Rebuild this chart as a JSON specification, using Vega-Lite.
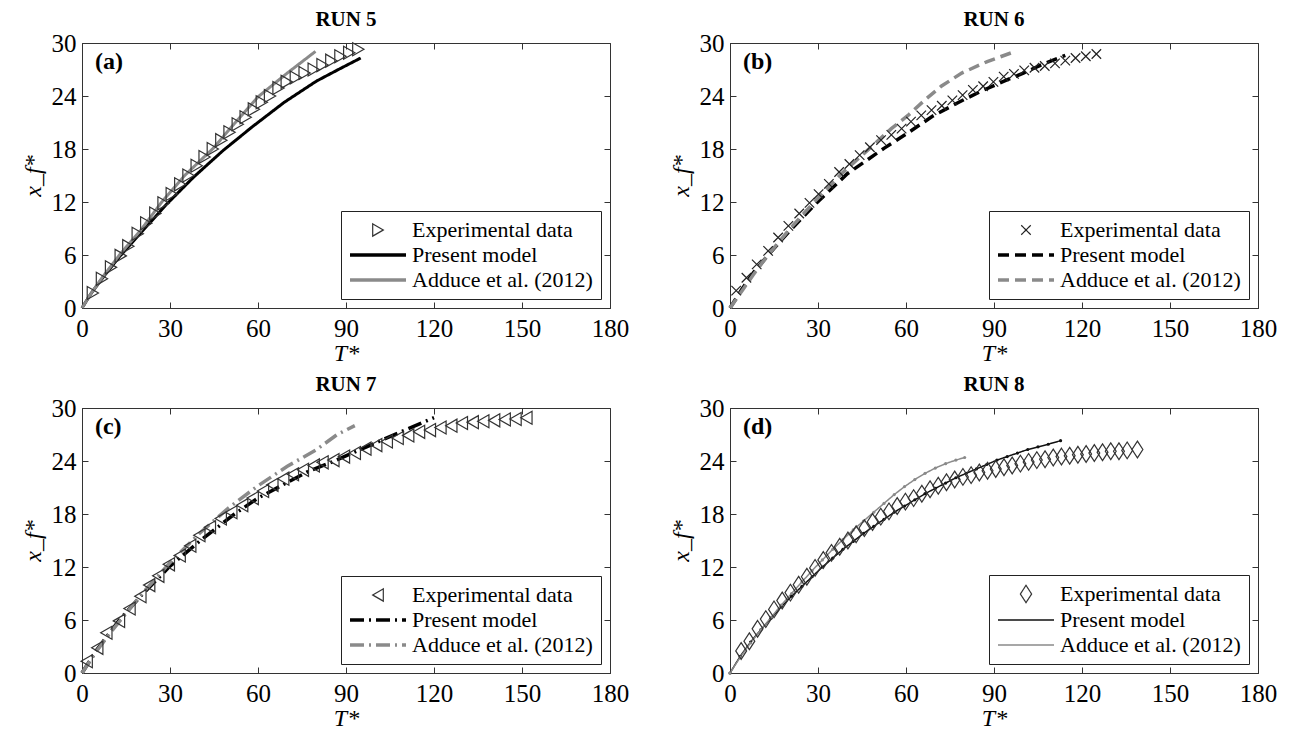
{
  "$schema": "https://vega.github.io/schema/vega-lite/v6.json",
  "padding": {"left": 20, "top": 8, "right": 10, "bottom": 2},
  "background": "white",
  "config": {
    "font": "Liberation Serif",
    "view": {"stroke": "#333", "strokeWidth": 1},
    "axis": {"labelFont": "Liberation Serif", "labelFontSize": 25, "labelColor": "#000", "tickColor": "#333", "tickSize": -6, "domainColor": "#333", "grid": false, "titleFont": "Liberation Serif", "titleFontSize": 24, "titleFontStyle": "italic", "titleFontWeight": "normal", "titleColor": "#000", "labelPadding": 14, "labelFlush": false, "labelOverlap": false},
    "axisY": {"labelPadding": 12},
    "legend": {"labelFont": "Liberation Serif", "labelFontSize": 22, "labelColor": "#000", "strokeColor": "#222", "fillColor": "#fff", "padding": 8, "rowPadding": 3, "labelOffset": 23, "symbolOffset": 18, "orient": "bottom-right", "offset": 9, "symbolOpacity": 1, "labelLimit": 400},
    "title": {"font": "Liberation Serif", "fontSize": 21, "fontWeight": "bold", "color": "#000", "offset": 1}
  },
  "datasets": {
    "d": [
      {"panel":"a","series":"Experimental data","T":3.7,"x":1.7},{"panel":"a","series":"Experimental data","T":6.8,"x":3.3},{"panel":"a","series":"Experimental data","T":9.9,"x":4.6},{"panel":"a","series":"Experimental data","T":13.2,"x":5.9},{"panel":"a","series":"Experimental data","T":15.8,"x":7.0},{"panel":"a","series":"Experimental data","T":19.0,"x":8.4},{"panel":"a","series":"Experimental data","T":21.9,"x":9.6},{"panel":"a","series":"Experimental data","T":25.0,"x":10.7},{"panel":"a","series":"Experimental data","T":27.8,"x":11.85},{"panel":"a","series":"Experimental data","T":30.6,"x":12.9},{"panel":"a","series":"Experimental data","T":33.5,"x":14.0},{"panel":"a","series":"Experimental data","T":36.3,"x":15.0},{"panel":"a","series":"Experimental data","T":39.1,"x":16.1},{"panel":"a","series":"Experimental data","T":41.8,"x":17.1},{"panel":"a","series":"Experimental data","T":44.6,"x":18.0},{"panel":"a","series":"Experimental data","T":47.5,"x":19.0},{"panel":"a","series":"Experimental data","T":50.3,"x":19.9},{"panel":"a","series":"Experimental data","T":53.1,"x":20.8},{"panel":"a","series":"Experimental data","T":55.8,"x":21.6},{"panel":"a","series":"Experimental data","T":58.6,"x":22.5},{"panel":"a","series":"Experimental data","T":61.3,"x":23.3},{"panel":"a","series":"Experimental data","T":64.1,"x":24.0},{"panel":"a","series":"Experimental data","T":67.0,"x":24.9},{"panel":"a","series":"Experimental data","T":69.8,"x":25.6},{"panel":"a","series":"Experimental data","T":72.9,"x":26.1},{"panel":"a","series":"Experimental data","T":75.9,"x":26.6},{"panel":"a","series":"Experimental data","T":79.0,"x":27.0},{"panel":"a","series":"Experimental data","T":82.0,"x":27.5},{"panel":"a","series":"Experimental data","T":85.0,"x":28.0},{"panel":"a","series":"Experimental data","T":88.1,"x":28.5},{"panel":"a","series":"Experimental data","T":91.1,"x":28.9},{"panel":"a","series":"Experimental data","T":94.2,"x":29.3},
      {"panel":"a","series":"Present model","T":0,"x":0},{"panel":"a","series":"Present model","T":3,"x":1.6},{"panel":"a","series":"Present model","T":7,"x":3.4},{"panel":"a","series":"Present model","T":13,"x":5.9},{"panel":"a","series":"Present model","T":20,"x":8.5},{"panel":"a","series":"Present model","T":29,"x":11.8},{"panel":"a","series":"Present model","T":38,"x":14.8},{"panel":"a","series":"Present model","T":48,"x":17.8},{"panel":"a","series":"Present model","T":58,"x":20.5},{"panel":"a","series":"Present model","T":69,"x":23.3},{"panel":"a","series":"Present model","T":80,"x":25.7},{"panel":"a","series":"Present model","T":88,"x":27.1},{"panel":"a","series":"Present model","T":95,"x":28.3},
      {"panel":"a","series":"Adduce et al. (2012)","T":0,"x":0},{"panel":"a","series":"Adduce et al. (2012)","T":3,"x":1.6},{"panel":"a","series":"Adduce et al. (2012)","T":7,"x":3.5},{"panel":"a","series":"Adduce et al. (2012)","T":13,"x":6.1},{"panel":"a","series":"Adduce et al. (2012)","T":20,"x":8.8},{"panel":"a","series":"Adduce et al. (2012)","T":27.2,"x":12},{"panel":"a","series":"Adduce et al. (2012)","T":35,"x":15},{"panel":"a","series":"Adduce et al. (2012)","T":44.8,"x":18.1},{"panel":"a","series":"Adduce et al. (2012)","T":52,"x":20.9},{"panel":"a","series":"Adduce et al. (2012)","T":60,"x":23.9},{"panel":"a","series":"Adduce et al. (2012)","T":70,"x":26.6},{"panel":"a","series":"Adduce et al. (2012)","T":79.6,"x":29.05},

      {"panel":"b","series":"Experimental data","T":2.1,"x":1.97},{"panel":"b","series":"Experimental data","T":5.6,"x":3.42},{"panel":"b","series":"Experimental data","T":9.1,"x":4.94},{"panel":"b","series":"Experimental data","T":13.0,"x":6.46},{"panel":"b","series":"Experimental data","T":16.4,"x":7.98},{"panel":"b","series":"Experimental data","T":19.9,"x":9.3},{"panel":"b","series":"Experimental data","T":23.6,"x":10.7},{"panel":"b","series":"Experimental data","T":27.1,"x":11.9},{"panel":"b","series":"Experimental data","T":30.2,"x":12.9},{"panel":"b","series":"Experimental data","T":33.7,"x":14.05},{"panel":"b","series":"Experimental data","T":37.2,"x":15.4},{"panel":"b","series":"Experimental data","T":40.7,"x":16.3},{"panel":"b","series":"Experimental data","T":44.2,"x":17.3},{"panel":"b","series":"Experimental data","T":47.7,"x":18.2},{"panel":"b","series":"Experimental data","T":51.5,"x":19.0},{"panel":"b","series":"Experimental data","T":55.0,"x":19.6},{"panel":"b","series":"Experimental data","T":58.5,"x":20.3},{"panel":"b","series":"Experimental data","T":61.7,"x":21.1},{"panel":"b","series":"Experimental data","T":65.2,"x":21.8},{"panel":"b","series":"Experimental data","T":68.7,"x":22.4},{"panel":"b","series":"Experimental data","T":72.2,"x":22.9},{"panel":"b","series":"Experimental data","T":75.8,"x":23.5},{"panel":"b","series":"Experimental data","T":79.3,"x":24.1},{"panel":"b","series":"Experimental data","T":82.8,"x":24.7},{"panel":"b","series":"Experimental data","T":86.3,"x":25.1},{"panel":"b","series":"Experimental data","T":89.8,"x":25.6},{"panel":"b","series":"Experimental data","T":93.3,"x":26.2},{"panel":"b","series":"Experimental data","T":96.8,"x":26.5},{"panel":"b","series":"Experimental data","T":100.3,"x":26.9},{"panel":"b","series":"Experimental data","T":103.8,"x":27.2},{"panel":"b","series":"Experimental data","T":107.3,"x":27.4},{"panel":"b","series":"Experimental data","T":110.8,"x":27.7},{"panel":"b","series":"Experimental data","T":114.3,"x":28.0},{"panel":"b","series":"Experimental data","T":117.8,"x":28.3},{"panel":"b","series":"Experimental data","T":121.3,"x":28.5},{"panel":"b","series":"Experimental data","T":124.9,"x":28.75},
      {"panel":"b","series":"Present model","T":0,"x":0},{"panel":"b","series":"Present model","T":4,"x":2.1},{"panel":"b","series":"Present model","T":8,"x":4.0},{"panel":"b","series":"Present model","T":13,"x":6.0},{"panel":"b","series":"Present model","T":20,"x":8.6},{"panel":"b","series":"Present model","T":29.5,"x":11.9},{"panel":"b","series":"Present model","T":40,"x":15.2},{"panel":"b","series":"Present model","T":52.6,"x":18.1},{"panel":"b","series":"Present model","T":61,"x":19.9},{"panel":"b","series":"Present model","T":69,"x":21.7},{"panel":"b","series":"Present model","T":78,"x":23.3},{"panel":"b","series":"Present model","T":86,"x":24.6},{"panel":"b","series":"Present model","T":95,"x":25.9},{"panel":"b","series":"Present model","T":100,"x":26.6},{"panel":"b","series":"Present model","T":106,"x":27.5},{"panel":"b","series":"Present model","T":114.3,"x":28.6},
      {"panel":"b","series":"Adduce et al. (2012)","T":0,"x":0},{"panel":"b","series":"Adduce et al. (2012)","T":4,"x":1.9},{"panel":"b","series":"Adduce et al. (2012)","T":8,"x":3.8},{"panel":"b","series":"Adduce et al. (2012)","T":13,"x":6.0},{"panel":"b","series":"Adduce et al. (2012)","T":20,"x":8.8},{"panel":"b","series":"Adduce et al. (2012)","T":29,"x":12.1},{"panel":"b","series":"Adduce et al. (2012)","T":38,"x":15.2},{"panel":"b","series":"Adduce et al. (2012)","T":47.7,"x":18.1},{"panel":"b","series":"Adduce et al. (2012)","T":55,"x":20.3},{"panel":"b","series":"Adduce et al. (2012)","T":61,"x":21.9},{"panel":"b","series":"Adduce et al. (2012)","T":66.6,"x":23.6},{"panel":"b","series":"Adduce et al. (2012)","T":72,"x":25.1},{"panel":"b","series":"Adduce et al. (2012)","T":79,"x":26.6},{"panel":"b","series":"Adduce et al. (2012)","T":87.7,"x":27.9},{"panel":"b","series":"Adduce et al. (2012)","T":96,"x":28.9},

      {"panel":"c","series":"Experimental data","T":1.6,"x":1.33},{"panel":"c","series":"Experimental data","T":5.2,"x":2.85},{"panel":"c","series":"Experimental data","T":8.3,"x":4.56},{"panel":"c","series":"Experimental data","T":12.6,"x":5.9},{"panel":"c","series":"Experimental data","T":16.2,"x":7.3},{"panel":"c","series":"Experimental data","T":19.9,"x":8.7},{"panel":"c","series":"Experimental data","T":22.9,"x":9.95},{"panel":"c","series":"Experimental data","T":26.0,"x":11.0},{"panel":"c","series":"Experimental data","T":29.6,"x":12.3},{"panel":"c","series":"Experimental data","T":33.3,"x":13.3},{"panel":"c","series":"Experimental data","T":36.9,"x":14.4},{"panel":"c","series":"Experimental data","T":40.0,"x":15.6},{"panel":"c","series":"Experimental data","T":43.6,"x":16.5},{"panel":"c","series":"Experimental data","T":47.3,"x":17.5},{"panel":"c","series":"Experimental data","T":50.9,"x":18.2},{"panel":"c","series":"Experimental data","T":54.6,"x":19.0},{"panel":"c","series":"Experimental data","T":58.2,"x":19.8},{"panel":"c","series":"Experimental data","T":61.7,"x":20.6},{"panel":"c","series":"Experimental data","T":64.9,"x":21.3},{"panel":"c","series":"Experimental data","T":68.6,"x":22.0},{"panel":"c","series":"Experimental data","T":71.9,"x":22.5},{"panel":"c","series":"Experimental data","T":75.3,"x":23.0},{"panel":"c","series":"Experimental data","T":79.0,"x":23.5},{"panel":"c","series":"Experimental data","T":82.0,"x":23.85},{"panel":"c","series":"Experimental data","T":85.7,"x":24.1},{"panel":"c","series":"Experimental data","T":89.3,"x":24.5},{"panel":"c","series":"Experimental data","T":93.0,"x":24.9},{"panel":"c","series":"Experimental data","T":96.6,"x":25.4},{"panel":"c","series":"Experimental data","T":100.3,"x":25.8},{"panel":"c","series":"Experimental data","T":103.9,"x":26.2},{"panel":"c","series":"Experimental data","T":107.6,"x":26.6},{"panel":"c","series":"Experimental data","T":111.2,"x":26.9},{"panel":"c","series":"Experimental data","T":114.9,"x":27.3},{"panel":"c","series":"Experimental data","T":118.6,"x":27.5},{"panel":"c","series":"Experimental data","T":122.2,"x":27.8},{"panel":"c","series":"Experimental data","T":125.9,"x":28.0},{"panel":"c","series":"Experimental data","T":129.5,"x":28.3},{"panel":"c","series":"Experimental data","T":133.2,"x":28.4},{"panel":"c","series":"Experimental data","T":136.8,"x":28.5},{"panel":"c","series":"Experimental data","T":140.5,"x":28.6},{"panel":"c","series":"Experimental data","T":144.1,"x":28.7},{"panel":"c","series":"Experimental data","T":147.8,"x":28.75},{"panel":"c","series":"Experimental data","T":151.5,"x":28.9},
      {"panel":"c","series":"Present model","T":0,"x":0},{"panel":"c","series":"Present model","T":5,"x":2.6},{"panel":"c","series":"Present model","T":12.5,"x":5.9},{"panel":"c","series":"Present model","T":20,"x":8.7},{"panel":"c","series":"Present model","T":30,"x":12.1},{"panel":"c","series":"Present model","T":40,"x":14.9},{"panel":"c","series":"Present model","T":52,"x":18.0},{"panel":"c","series":"Present model","T":60,"x":19.8},{"panel":"c","series":"Present model","T":69,"x":21.4},{"panel":"c","series":"Present model","T":77,"x":22.8},{"panel":"c","series":"Present model","T":86,"x":24.0},{"panel":"c","series":"Present model","T":97,"x":25.6},{"panel":"c","series":"Present model","T":108,"x":27.2},{"panel":"c","series":"Present model","T":120,"x":28.9},
      {"panel":"c","series":"Adduce et al. (2012)","T":0,"x":0},{"panel":"c","series":"Adduce et al. (2012)","T":5,"x":2.5},{"panel":"c","series":"Adduce et al. (2012)","T":10,"x":4.7},{"panel":"c","series":"Adduce et al. (2012)","T":20,"x":8.8},{"panel":"c","series":"Adduce et al. (2012)","T":30,"x":12.5},{"panel":"c","series":"Adduce et al. (2012)","T":40,"x":15.8},{"panel":"c","series":"Adduce et al. (2012)","T":50,"x":18.7},{"panel":"c","series":"Adduce et al. (2012)","T":60,"x":21.2},{"panel":"c","series":"Adduce et al. (2012)","T":70,"x":23.4},{"panel":"c","series":"Adduce et al. (2012)","T":80,"x":25.3},{"panel":"c","series":"Adduce et al. (2012)","T":87,"x":27.0},{"panel":"c","series":"Adduce et al. (2012)","T":93,"x":28.0},

      {"panel":"d","series":"Experimental data","T":3.8,"x":2.5},{"panel":"d","series":"Experimental data","T":6.6,"x":3.6},{"panel":"d","series":"Experimental data","T":9.4,"x":5.0},{"panel":"d","series":"Experimental data","T":12.2,"x":6.1},{"panel":"d","series":"Experimental data","T":15.0,"x":7.2},{"panel":"d","series":"Experimental data","T":17.8,"x":8.2},{"panel":"d","series":"Experimental data","T":20.6,"x":9.1},{"panel":"d","series":"Experimental data","T":23.4,"x":10.0},{"panel":"d","series":"Experimental data","T":26.2,"x":10.9},{"panel":"d","series":"Experimental data","T":29.0,"x":11.9},{"panel":"d","series":"Experimental data","T":31.8,"x":12.8},{"panel":"d","series":"Experimental data","T":34.6,"x":13.6},{"panel":"d","series":"Experimental data","T":37.4,"x":14.3},{"panel":"d","series":"Experimental data","T":40.2,"x":15.0},{"panel":"d","series":"Experimental data","T":43.0,"x":15.7},{"panel":"d","series":"Experimental data","T":45.8,"x":16.4},{"panel":"d","series":"Experimental data","T":48.6,"x":17.1},{"panel":"d","series":"Experimental data","T":51.4,"x":17.7},{"panel":"d","series":"Experimental data","T":54.2,"x":18.3},{"panel":"d","series":"Experimental data","T":57.0,"x":18.9},{"panel":"d","series":"Experimental data","T":59.8,"x":19.4},{"panel":"d","series":"Experimental data","T":62.6,"x":19.8},{"panel":"d","series":"Experimental data","T":65.4,"x":20.3},{"panel":"d","series":"Experimental data","T":68.2,"x":20.8},{"panel":"d","series":"Experimental data","T":71.0,"x":21.2},{"panel":"d","series":"Experimental data","T":73.8,"x":21.6},{"panel":"d","series":"Experimental data","T":76.6,"x":21.9},{"panel":"d","series":"Experimental data","T":79.4,"x":22.2},{"panel":"d","series":"Experimental data","T":82.2,"x":22.4},{"panel":"d","series":"Experimental data","T":85.0,"x":22.7},{"panel":"d","series":"Experimental data","T":87.8,"x":22.9},{"panel":"d","series":"Experimental data","T":90.6,"x":23.1},{"panel":"d","series":"Experimental data","T":93.4,"x":23.3},{"panel":"d","series":"Experimental data","T":96.2,"x":23.5},{"panel":"d","series":"Experimental data","T":99.0,"x":23.7},{"panel":"d","series":"Experimental data","T":101.8,"x":23.9},{"panel":"d","series":"Experimental data","T":104.6,"x":24.1},{"panel":"d","series":"Experimental data","T":107.4,"x":24.2},{"panel":"d","series":"Experimental data","T":110.2,"x":24.4},{"panel":"d","series":"Experimental data","T":113.0,"x":24.5},{"panel":"d","series":"Experimental data","T":115.8,"x":24.6},{"panel":"d","series":"Experimental data","T":118.6,"x":24.7},{"panel":"d","series":"Experimental data","T":121.4,"x":24.8},{"panel":"d","series":"Experimental data","T":124.2,"x":24.9},{"panel":"d","series":"Experimental data","T":127.0,"x":25.0},{"panel":"d","series":"Experimental data","T":129.8,"x":25.1},{"panel":"d","series":"Experimental data","T":132.6,"x":25.1},{"panel":"d","series":"Experimental data","T":135.4,"x":25.2},{"panel":"d","series":"Experimental data","T":138.9,"x":25.3},
      {"panel":"d","series":"Present model","T":0,"x":0},{"panel":"d","series":"Present model","T":3.5,"x":1.9},{"panel":"d","series":"Present model","T":7,"x":3.5},{"panel":"d","series":"Present model","T":10.5,"x":4.9},{"panel":"d","series":"Present model","T":14,"x":6.2},{"panel":"d","series":"Present model","T":17.5,"x":7.5},{"panel":"d","series":"Present model","T":21,"x":8.7},{"panel":"d","series":"Present model","T":24.5,"x":9.8},{"panel":"d","series":"Present model","T":28,"x":10.9},{"panel":"d","series":"Present model","T":31.5,"x":12.0},{"panel":"d","series":"Present model","T":35,"x":13.0},{"panel":"d","series":"Present model","T":38.5,"x":14.0},{"panel":"d","series":"Present model","T":42,"x":14.9},{"panel":"d","series":"Present model","T":45.5,"x":15.8},{"panel":"d","series":"Present model","T":49,"x":16.6},{"panel":"d","series":"Present model","T":52.5,"x":17.4},{"panel":"d","series":"Present model","T":56,"x":18.2},{"panel":"d","series":"Present model","T":59.5,"x":18.9},{"panel":"d","series":"Present model","T":63,"x":19.6},{"panel":"d","series":"Present model","T":66.5,"x":20.3},{"panel":"d","series":"Present model","T":70,"x":20.9},{"panel":"d","series":"Present model","T":73.5,"x":21.5},{"panel":"d","series":"Present model","T":77,"x":22.1},{"panel":"d","series":"Present model","T":80.5,"x":22.6},{"panel":"d","series":"Present model","T":84,"x":23.1},{"panel":"d","series":"Present model","T":87.5,"x":23.6},{"panel":"d","series":"Present model","T":91,"x":24.1},{"panel":"d","series":"Present model","T":94.5,"x":24.5},{"panel":"d","series":"Present model","T":98,"x":24.9},{"panel":"d","series":"Present model","T":101.5,"x":25.3},{"panel":"d","series":"Present model","T":105,"x":25.6},{"panel":"d","series":"Present model","T":108.5,"x":25.9},{"panel":"d","series":"Present model","T":112.7,"x":26.3},
      {"panel":"d","series":"Adduce et al. (2012)","T":0,"x":0},{"panel":"d","series":"Adduce et al. (2012)","T":3.5,"x":1.8},{"panel":"d","series":"Adduce et al. (2012)","T":7,"x":3.4},{"panel":"d","series":"Adduce et al. (2012)","T":10.5,"x":4.9},{"panel":"d","series":"Adduce et al. (2012)","T":14,"x":6.3},{"panel":"d","series":"Adduce et al. (2012)","T":17.5,"x":7.7},{"panel":"d","series":"Adduce et al. (2012)","T":21,"x":9.0},{"panel":"d","series":"Adduce et al. (2012)","T":24.5,"x":10.3},{"panel":"d","series":"Adduce et al. (2012)","T":28,"x":11.6},{"panel":"d","series":"Adduce et al. (2012)","T":31.5,"x":12.8},{"panel":"d","series":"Adduce et al. (2012)","T":35,"x":14.0},{"panel":"d","series":"Adduce et al. (2012)","T":38.5,"x":15.1},{"panel":"d","series":"Adduce et al. (2012)","T":42,"x":16.2},{"panel":"d","series":"Adduce et al. (2012)","T":45.5,"x":17.2},{"panel":"d","series":"Adduce et al. (2012)","T":49,"x":18.2},{"panel":"d","series":"Adduce et al. (2012)","T":52.5,"x":19.2},{"panel":"d","series":"Adduce et al. (2012)","T":56,"x":20.2},{"panel":"d","series":"Adduce et al. (2012)","T":59.5,"x":21.1},{"panel":"d","series":"Adduce et al. (2012)","T":63,"x":21.9},{"panel":"d","series":"Adduce et al. (2012)","T":66.5,"x":22.6},{"panel":"d","series":"Adduce et al. (2012)","T":70,"x":23.2},{"panel":"d","series":"Adduce et al. (2012)","T":73.5,"x":23.7},{"panel":"d","series":"Adduce et al. (2012)","T":77,"x":24.1},{"panel":"d","series":"Adduce et al. (2012)","T":80,"x":24.4}
    ]
  },
  "data": {"name": "d"},
  "columns": 2,
  "spacing": {"column": 38, "row": 7},
  "resolve": {"scale": {"color": "independent", "shape": "independent", "strokeDash": "independent"}, "legend": {"color": "independent", "shape": "independent", "strokeDash": "independent"}},
  "concat": [
    {
      "width": 528, "height": 265,
      "title": "RUN 5",
      "transform": [{"filter": "datum.panel === 'a'"}],
      "layer": [
        {
          "transform": [{"filter": "datum.series !== 'Experimental data'"}],
          "mark": {"type": "line", "strokeWidth": 3},
          "encoding": {
            "x": {"field": "T", "type": "quantitative", "scale": {"domain": [0, 180], "nice": false, "zero": false}, "axis": {"values": [0, 30, 60, 90, 120, 150, 180], "title": "T*", "titlePadding": 0}},
            "y": {"field": "x", "type": "quantitative", "scale": {"domain": [0, 30], "nice": false}, "axis": {"values": [0, 6, 12, 18, 24, 30], "title": "x_f*", "titlePadding": 6}},
            "color": {"field": "series", "type": "nominal", "scale": {"domain": ["Experimental data", "Present model", "Adduce et al. (2012)"], "range": ["#333333", "#000000", "#8a8a8a"]}, "legend": {"title": null, "encode": {"symbols": {"update": {"size": {"signal": "datum.value === 'Experimental data' ? 150 : 3136"}, "strokeWidth": {"signal": "datum.value === 'Experimental data' ? 1.2 : 3.5"}, "fill": {"value": "transparent"}}}}}},
            "strokeDash": {"field": "series", "type": "nominal", "scale": {"domain": ["Experimental data", "Present model", "Adduce et al. (2012)"], "range": [[1, 0], [1, 0], [1, 0]]}, "legend": {"title": null}},
            "order": {"field": "T", "type": "quantitative"}
          }
        },
        {
          "transform": [{"filter": "datum.series === 'Experimental data'"}],
          "mark": {"type": "point", "filled": false, "strokeWidth": 1.2, "size": 170, "opacity": 1},
          "encoding": {
            "x": {"field": "T", "type": "quantitative", "axis": {"orient": "top", "values": [0, 30, 60, 90, 120, 150, 180], "labels": false, "domain": false, "title": null}},
            "y": {"field": "x", "type": "quantitative", "axis": {"orient": "right", "values": [0, 6, 12, 18, 24, 30], "labels": false, "domain": false, "title": null}},
            "color": {"field": "series", "type": "nominal", "legend": {"title": null}},
            "shape": {"field": "series", "type": "nominal", "scale": {"domain": ["Experimental data", "Present model", "Adduce et al. (2012)"], "range": ["triangle-right", "stroke", "stroke"]}, "legend": {"title": null}}
          }
        },
        {
          "data": {"values": [{"label": "(a)"}]},
          "mark": {"type": "text", "font": "Liberation Serif", "fontSize": 24, "fontWeight": "bold", "align": "left", "baseline": "middle", "color": "#000"},
          "encoding": {"x": {"datum": 4.4, "type": "quantitative", "axis": null}, "y": {"datum": 27.8, "type": "quantitative", "axis": null}, "text": {"field": "label"}}
        }
      ],
      "resolve": {"axis": {"x": "independent", "y": "independent"}}
    },
    {
      "width": 528, "height": 265,
      "title": "RUN 6",
      "transform": [{"filter": "datum.panel === 'b'"}],
      "layer": [
        {
          "transform": [{"filter": "datum.series !== 'Experimental data'"}],
          "mark": {"type": "line", "strokeWidth": 3.5},
          "encoding": {
            "x": {"field": "T", "type": "quantitative", "scale": {"domain": [0, 180], "nice": false, "zero": false}, "axis": {"values": [0, 30, 60, 90, 120, 150, 180], "title": "T*", "titlePadding": 0}},
            "y": {"field": "x", "type": "quantitative", "scale": {"domain": [0, 30], "nice": false}, "axis": {"values": [0, 6, 12, 18, 24, 30], "title": "x_f*", "titlePadding": 6}},
            "color": {"field": "series", "type": "nominal", "scale": {"domain": ["Experimental data", "Present model", "Adduce et al. (2012)"], "range": ["#222222", "#000000", "#8a8a8a"]}, "legend": {"title": null, "encode": {"symbols": {"update": {"size": {"signal": "datum.value === 'Experimental data' ? 90 : 3136"}, "strokeWidth": {"signal": "datum.value === 'Experimental data' ? 1.2 : 3.5"}, "fill": {"value": "transparent"}}}}}},
            "strokeDash": {"field": "series", "type": "nominal", "scale": {"domain": ["Experimental data", "Present model", "Adduce et al. (2012)"], "range": [[1, 0], [11, 6], [11, 6]]}, "legend": {"title": null}},
            "order": {"field": "T", "type": "quantitative"}
          }
        },
        {
          "transform": [{"filter": "datum.series === 'Experimental data'"}],
          "mark": {"type": "point", "filled": false, "strokeWidth": 1.2, "size": 90, "opacity": 1},
          "encoding": {
            "x": {"field": "T", "type": "quantitative", "axis": {"orient": "top", "values": [0, 30, 60, 90, 120, 150, 180], "labels": false, "domain": false, "title": null}},
            "y": {"field": "x", "type": "quantitative", "axis": {"orient": "right", "values": [0, 6, 12, 18, 24, 30], "labels": false, "domain": false, "title": null}},
            "color": {"field": "series", "type": "nominal", "legend": {"title": null}},
            "shape": {"field": "series", "type": "nominal", "scale": {"domain": ["Experimental data", "Present model", "Adduce et al. (2012)"], "range": ["M-1,-1L1,1M-1,1L1,-1", "stroke", "stroke"]}, "legend": {"title": null}}
          }
        },
        {
          "data": {"values": [{"label": "(b)"}]},
          "mark": {"type": "text", "font": "Liberation Serif", "fontSize": 24, "fontWeight": "bold", "align": "left", "baseline": "middle", "color": "#000"},
          "encoding": {"x": {"datum": 4.4, "type": "quantitative", "axis": null}, "y": {"datum": 27.8, "type": "quantitative", "axis": null}, "text": {"field": "label"}}
        }
      ],
      "resolve": {"axis": {"x": "independent", "y": "independent"}}
    },
    {
      "width": 528, "height": 265,
      "title": "RUN 7",
      "transform": [{"filter": "datum.panel === 'c'"}],
      "layer": [
        {
          "transform": [{"filter": "datum.series !== 'Experimental data'"}],
          "mark": {"type": "line", "strokeWidth": 3.5},
          "encoding": {
            "x": {"field": "T", "type": "quantitative", "scale": {"domain": [0, 180], "nice": false, "zero": false}, "axis": {"values": [0, 30, 60, 90, 120, 150, 180], "title": "T*", "titlePadding": 0}},
            "y": {"field": "x", "type": "quantitative", "scale": {"domain": [0, 30], "nice": false}, "axis": {"values": [0, 6, 12, 18, 24, 30], "title": "x_f*", "titlePadding": 6}},
            "color": {"field": "series", "type": "nominal", "scale": {"domain": ["Experimental data", "Present model", "Adduce et al. (2012)"], "range": ["#333333", "#000000", "#8a8a8a"]}, "legend": {"title": null, "encode": {"symbols": {"update": {"size": {"signal": "datum.value === 'Experimental data' ? 150 : 3136"}, "strokeWidth": {"signal": "datum.value === 'Experimental data' ? 1.2 : 3.5"}, "fill": {"value": "transparent"}}}}}},
            "strokeDash": {"field": "series", "type": "nominal", "scale": {"domain": ["Experimental data", "Present model", "Adduce et al. (2012)"], "range": [[1, 0], [14, 5, 2, 5], [14, 5, 2, 5]]}, "legend": {"title": null}},
            "order": {"field": "T", "type": "quantitative"}
          }
        },
        {
          "transform": [{"filter": "datum.series === 'Experimental data'"}],
          "mark": {"type": "point", "filled": false, "strokeWidth": 1.2, "size": 170, "opacity": 1},
          "encoding": {
            "x": {"field": "T", "type": "quantitative", "axis": {"orient": "top", "values": [0, 30, 60, 90, 120, 150, 180], "labels": false, "domain": false, "title": null}},
            "y": {"field": "x", "type": "quantitative", "axis": {"orient": "right", "values": [0, 6, 12, 18, 24, 30], "labels": false, "domain": false, "title": null}},
            "color": {"field": "series", "type": "nominal", "legend": {"title": null}},
            "shape": {"field": "series", "type": "nominal", "scale": {"domain": ["Experimental data", "Present model", "Adduce et al. (2012)"], "range": ["triangle-left", "stroke", "stroke"]}, "legend": {"title": null}}
          }
        },
        {
          "data": {"values": [{"label": "(c)"}]},
          "mark": {"type": "text", "font": "Liberation Serif", "fontSize": 24, "fontWeight": "bold", "align": "left", "baseline": "middle", "color": "#000"},
          "encoding": {"x": {"datum": 4.4, "type": "quantitative", "axis": null}, "y": {"datum": 27.8, "type": "quantitative", "axis": null}, "text": {"field": "label"}}
        }
      ],
      "resolve": {"axis": {"x": "independent", "y": "independent"}}
    },
    {
      "width": 528, "height": 265,
      "title": "RUN 8",
      "transform": [{"filter": "datum.panel === 'd'"}],
      "layer": [
        {
          "transform": [{"filter": "datum.series !== 'Experimental data'"}],
          "mark": {"type": "line", "strokeWidth": 1.5},
          "encoding": {
            "x": {"field": "T", "type": "quantitative", "scale": {"domain": [0, 180], "nice": false, "zero": false}, "axis": {"values": [0, 30, 60, 90, 120, 150, 180], "title": "T*", "titlePadding": 0}},
            "y": {"field": "x", "type": "quantitative", "scale": {"domain": [0, 30], "nice": false}, "axis": {"values": [0, 6, 12, 18, 24, 30], "title": "x_f*", "titlePadding": 6}},
            "color": {"field": "series", "type": "nominal", "scale": {"domain": ["Experimental data", "Present model", "Adduce et al. (2012)"], "range": ["#333333", "#111111", "#8a8a8a"]}, "legend": {"title": null, "encode": {"symbols": {"update": {"size": {"signal": "datum.value === 'Experimental data' ? 300 : 3136"}, "strokeWidth": {"signal": "datum.value === 'Experimental data' ? 1.2 : 1.5"}, "fill": {"value": "transparent"}}}}}},
            "strokeDash": {"field": "series", "type": "nominal", "scale": {"domain": ["Experimental data", "Present model", "Adduce et al. (2012)"], "range": [[1, 0], [1, 0], [1, 0]]}, "legend": {"title": null}},
            "order": {"field": "T", "type": "quantitative"}
          }
        },
        {
          "transform": [{"filter": "datum.series === 'Present model'"}],
          "mark": {"type": "circle", "size": 10, "opacity": 1, "color": "#111111"},
          "encoding": {
            "x": {"field": "T", "type": "quantitative", "axis": null},
            "y": {"field": "x", "type": "quantitative", "axis": null}
          }
        },
        {
          "transform": [{"filter": "datum.series === 'Adduce et al. (2012)'"}],
          "mark": {"type": "circle", "size": 10, "opacity": 1, "color": "#8a8a8a"},
          "encoding": {
            "x": {"field": "T", "type": "quantitative", "axis": null},
            "y": {"field": "x", "type": "quantitative", "axis": null}
          }
        },
        {
          "transform": [{"filter": "datum.series === 'Experimental data'"}],
          "mark": {"type": "point", "filled": false, "strokeWidth": 1.2, "size": 280, "opacity": 1},
          "encoding": {
            "x": {"field": "T", "type": "quantitative", "axis": {"orient": "top", "values": [0, 30, 60, 90, 120, 150, 180], "labels": false, "domain": false, "title": null}},
            "y": {"field": "x", "type": "quantitative", "axis": {"orient": "right", "values": [0, 6, 12, 18, 24, 30], "labels": false, "domain": false, "title": null}},
            "color": {"field": "series", "type": "nominal", "legend": {"title": null}},
            "shape": {"field": "series", "type": "nominal", "scale": {"domain": ["Experimental data", "Present model", "Adduce et al. (2012)"], "range": ["M0,-1L0.65,0L0,1L-0.65,0Z", "stroke", "stroke"]}, "legend": {"title": null}}
          }
        },
        {
          "data": {"values": [{"label": "(d)"}]},
          "mark": {"type": "text", "font": "Liberation Serif", "fontSize": 24, "fontWeight": "bold", "align": "left", "baseline": "middle", "color": "#000"},
          "encoding": {"x": {"datum": 4.4, "type": "quantitative", "axis": null}, "y": {"datum": 27.8, "type": "quantitative", "axis": null}, "text": {"field": "label"}}
        }
      ],
      "resolve": {"axis": {"x": "independent", "y": "independent"}}
    }
  ]
}
